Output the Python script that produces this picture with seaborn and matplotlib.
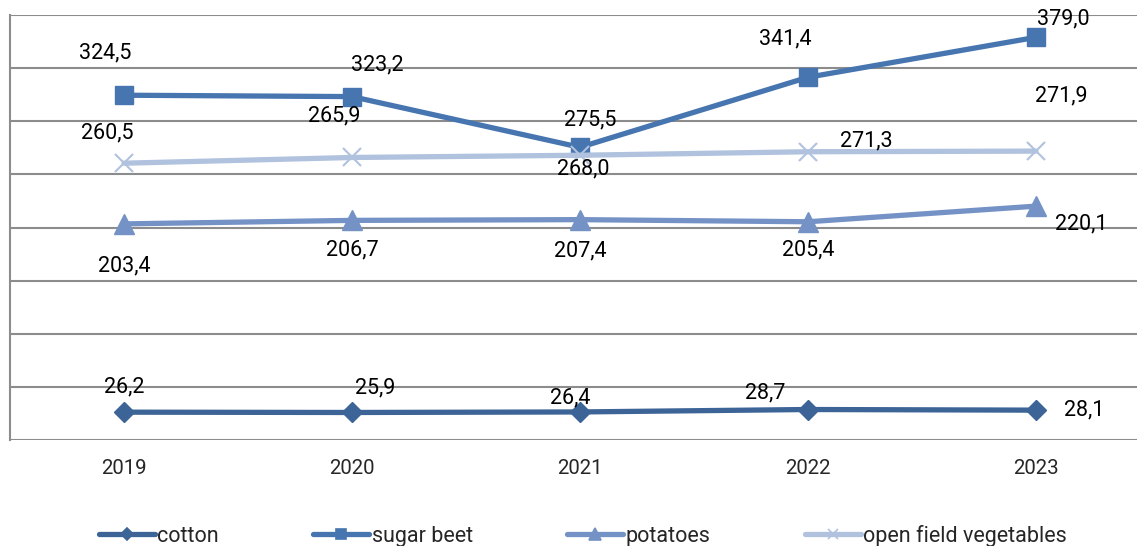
import matplotlib
matplotlib.use("Agg")
import matplotlib.pyplot as plt
import seaborn as sns
import pandas as pd

years = [2019, 2020, 2021, 2022, 2023]
cotton = [26.2, 25.9, 26.4, 28.7, 28.1]
sugar_beet = [324.5, 323.2, 275.5, 341.4, 379.0]
potatoes = [203.4, 206.7, 207.4, 205.4, 220.1]
vegetables = [260.5, 265.9, 268.0, 271.3, 271.9]
series_names = ["cotton", "sugar beet", "potatoes", "open field vegetables"]

sns.set_theme(style="white")
plt.rcParams['font.family'] = ['Roboto', 'DejaVu Sans']

series_values = [cotton, sugar_beet, potatoes, vegetables]
df = pd.DataFrame({
    "year": years * 4,
    "value": cotton + sugar_beet + potatoes + vegetables,
    "crop": [n for n in series_names for _ in years],
})

colors = {"cotton": "#3D6497", "sugar beet": "#4675B0",
          "potatoes": "#7592C6", "open field vegetables": "#B0C2DE"}
markers = {"cotton": "D", "sugar beet": "s", "potatoes": "^", "open field vegetables": "x"}
msizes = {"cotton": 10, "sugar beet": 13, "potatoes": 14, "open field vegetables": 13}
mew = {"cotton": 1, "sugar beet": 1, "potatoes": 1, "open field vegetables": 1.5}

# label offsets in pixels (dx, dy up)
offsets = {
    "cotton": [(0, 25), (23, 25), (-10, 14), (-43, 17), (48, 0)],
    "sugar beet": [(-19, 42), (25, 32), (10, 27), (-23, 38), (27, 18)],
    "potatoes": [(0, -42), (0, -30), (0, -31), (0, -28), (45, -18)],
    "open field vegetables": [(-17, 30), (-18, 42), (3, -14), (58, 11), (25, 55)],
}

W, H = 1137, 546
fig = plt.figure(figsize=(W / 100, H / 100), dpi=100)
ax = fig.add_axes([10 / W, 1 - 440 / H, 1140 / W, 425 / H])

for name in series_names:
    sub = df[df.crop == name]
    sns.lineplot(data=sub, x="year", y="value", ax=ax, color=colors[name],
                 marker=markers[name], markersize=msizes[name],
                 markeredgecolor=colors[name], markeredgewidth=mew[name],
                 linewidth=3.8, label=name, legend=False)

for name, vals in zip(series_names, series_values):
    for x, v, (dx, dy) in zip(years, vals, offsets[name]):
        ax.annotate(f"{v:.1f}".replace(".", ","), (x, v), xytext=(dx, dy),
                    textcoords="offset pixels", ha="center", va="center",
                    fontsize=15.5, color="black")

ax.set_xlim(2018.5, 2023.5)
ax.set_ylim(0, 400)
ax.set_yticks(range(0, 401, 50))
ax.set_yticklabels([])
ax.set_xticks(years)
ax.set_xticklabels([str(y) for y in years], fontsize=14.7)
ax.tick_params(axis="x", length=0, pad=14)
ax.tick_params(axis="y", length=0)
ax.set_xlabel("")
ax.set_ylabel("")
ax.grid(axis="y", color="#8C8C8C", linewidth=1.5)
ax.grid(axis="x", visible=False)
for s in ["top", "right", "bottom"]:
    ax.spines[s].set_visible(False)
ax.spines["left"].set_color("#8C8C8C")
ax.spines["left"].set_linewidth(1.5)

handles = [plt.Line2D([], [], color=colors[n], marker=markers[n],
                      markersize=msizes[n] * 0.6, markeredgewidth=1.2,
                      linewidth=3.8) for n in series_names]
fig.legend(handles, series_names, loc="center", bbox_to_anchor=(583 / W, 1 - 536 / H),
           ncol=4, frameon=False, fontsize=15.5, handlelength=2.6, handletextpad=0.1,
           columnspacing=4.4)

fig.savefig("out.png", dpi=100)
